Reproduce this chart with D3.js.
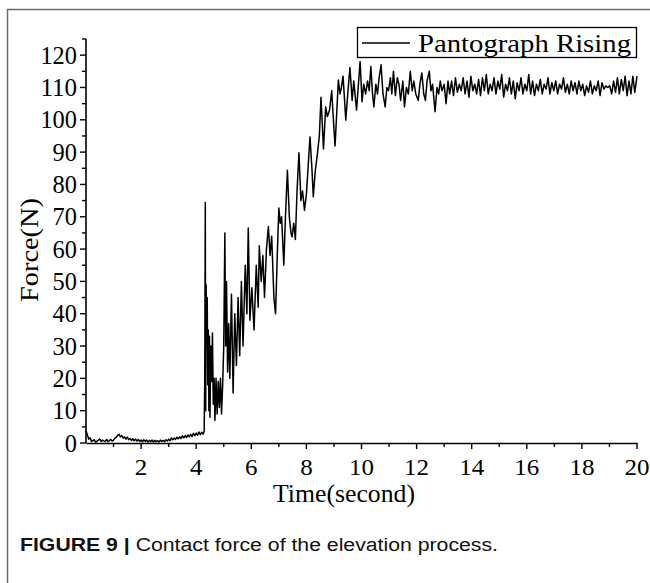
<!DOCTYPE html>
<html><head><meta charset="utf-8">
<script src="https://cdn.jsdelivr.net/npm/d3@7"></script>
<style>html,body{margin:0;padding:0;background:#fff;}svg{display:block;}</style>
</head><body>
<script>
// ---- data (time in s, force in N) ----
const xTicks = [2,4,6,8,10,12,14,16,18,20];
const yTicks = [0,10,20,30,40,50,60,70,80,90,100,110,120];
const seriesName = "Pantograph Rising";
const xLabel = "Time(second)";
const yLabel = "Force(N)";
const caption = ["FIGURE 9 | ", "Contact force of the elevation process."];

const phaseIdle = [
 [0,3.8],[0.05,2.5],[0.1,1.2],[0.15,1.6],[0.2,0.5],[0.3,1.0],[0.35,0.3],[0.4,0.6],[0.5,1.2],[0.55,0.5],[0.6,0.9],[0.7,0.4],
 [0.75,1.1],[0.8,0.4],[0.9,1.1],[0.95,0.6],[1.0,0.9],[1.05,1.5],[1.1,1.8],[1.15,2.4],[1.2,2.7],[1.25,1.9],[1.3,2.3],[1.35,1.5],
 [1.4,1.9],[1.45,1.2],[1.5,1.8],[1.55,1.0],[1.6,1.4],[1.65,0.8],[1.7,1.3],[1.75,0.7],[1.8,1.2],[1.85,0.6],[1.9,1.1],[1.95,0.5],
 [2.0,0.9],[2.05,0.4],[2.1,1.0],[2.15,0.5],[2.2,0.9],[2.25,0.3],[2.3,0.8],[2.35,0.4],[2.4,0.9],[2.45,0.3],[2.5,0.8],[2.55,0.4],
 [2.6,0.7],[2.65,0.3],[2.7,0.9],[2.75,0.5],[2.8,0.8],[2.85,0.4],[2.9,1.0],[2.95,0.6],[3.0,1.2],[3.05,0.7],[3.1,1.6],[3.15,1.0],
 [3.2,1.5],[3.25,1.1],[3.3,1.8],[3.35,1.3],[3.4,1.9],[3.45,1.4],[3.5,2.2],[3.55,1.6],[3.6,2.3],[3.65,1.7],[3.7,2.5],[3.75,1.9],
 [3.8,2.7],[3.85,2.0],[3.9,3.0],[3.95,2.3],[4.0,3.1],[4.05,2.4],[4.1,3.4],[4.15,2.6],[4.2,3.3],[4.25,2.8],[4.29,3.6]
];
const phaseContact = [
 [4.31,20],[4.33,74.4],[4.345,10],[4.36,49],[4.38,30],[4.40,45],[4.42,18],[4.44,35],[4.46,10],[4.48,33],[4.50,8],
 [4.53,30],[4.56,19],[4.59,34],[4.62,12],[4.65,20],[4.68,7],[4.72,20],[4.76,9],[4.80,19],[4.84,11],[4.88,20],[4.92,9],
 [4.96,18],[5.00,30],[5.04,65],[5.07,30],[5.10,50],[5.14,22],[5.18,37],[5.22,20],[5.28,46],[5.34,15.5],[5.40,40],
 [5.46,24],[5.52,45],[5.58,27],[5.64,50],[5.70,30],[5.78,55],[5.84,40],[5.89,66.5],[5.95,38],[6.02,48],[6.10,35],
 [6.18,55],[6.25,42],[6.29,61],[6.36,50],[6.42,58],[6.48,45],[6.55,60],[6.62,67],[6.68,58],[6.74,64],[6.82,45],[6.88,40]
];
const phaseRise = [
 [6.95,60],[7.00,72.7],[7.05,68],[7.10,70],[7.18,55],[7.24,70],[7.31,84.4],[7.38,70],[7.44,65],[7.48,63.8],[7.54,68],
 [7.60,63],[7.66,78],[7.73,89.8],[7.80,75],[7.86,78],[7.93,72],[8.00,77],[8.06,85],[8.13,94.7],[8.20,85],[8.25,76.2],
 [8.32,84],[8.40,89.5],[8.47,95],[8.53,107],[8.58,98],[8.62,91],[8.70,104],[8.76,101],[8.84,103],[8.92,109],[8.98,100],
 [9.04,91.9],[9.10,102],[9.16,112.3],[9.22,108],[9.27,110],[9.33,113.5],[9.43,99.9],[9.50,108],[9.58,116.2],[9.66,106],
 [9.72,112],[9.82,103],[9.88,110],[9.95,118],[10.02,105.6],[10.08,111],[10.15,108],[10.22,112],[10.28,109],[10.34,116.5],
 [10.40,108],[10.45,104],[10.52,111],[10.58,108],[10.64,113],[10.71,117],[10.78,108],[10.86,104],[10.92,110],[10.98,109],
 [11.05,113],[11.10,108],[11.16,115],[11.23,107.5],[11.30,113],[11.36,111],[11.42,106],[11.50,112],[11.56,104],[11.63,110],
 [11.70,108],[11.77,115],[11.84,109],[11.90,112],[11.97,108],[12.06,106],[12.12,111],[12.19,114.5],[12.26,108],[12.32,106],
 [12.38,112],[12.46,115],[12.52,109],[12.58,111],[12.67,102.5],[12.74,110],[12.80,108],[12.86,112],[12.92,109],[13.00,111],
 [13.07,105],[13.14,112]
];
const phaseSteady = [
 [13.20,108],[13.27,112],[13.34,107.5],[13.41,113],[13.48,108.5],[13.55,111],[13.62,109],[13.69,113],[13.76,108],[13.83,112],
 [13.90,107],[13.97,113.5],[14.04,109],[14.11,111],[14.18,108],[14.25,112.5],[14.32,107.5],[14.39,113],[14.46,109],[14.53,114],
 [14.60,108],[14.67,111],[14.74,109],[14.81,113],[14.88,108],[14.95,112],[15.02,109.5],[15.09,114],[15.16,107],[15.23,111],
 [15.30,109],[15.37,113],[15.44,108],[15.51,112],[15.58,106.5],[15.65,111.5],[15.72,109],[15.79,113],[15.86,108],[15.93,111],
 [16.00,109],[16.07,114],[16.14,108],[16.21,112],[16.28,107.5],[16.35,111],[16.42,109],[16.49,112.5],[16.56,108],[16.63,111],
 [16.70,109.5],[16.77,113],[16.84,108],[16.91,111.5],[16.98,109],[17.05,112],[17.12,108],[17.19,111],[17.26,109.5],[17.33,113],
 [17.40,108.5],[17.47,111],[17.54,108],[17.61,112],[17.68,109],[17.75,111.5],[17.82,108],[17.89,112],[17.96,109],[18.03,111],
 [18.10,107.5],[18.17,110.5],[18.24,108.5],[18.31,112],[18.38,108],[18.45,110.5],[18.52,109],[18.59,112],[18.66,107.5],[18.73,111.5],
 [18.80,109.5],[18.87,110.5],[18.94,110],[19.01,110.5],[19.08,108],[19.15,112],[19.22,108.5],[19.29,113],[19.36,108],[19.43,112.5],
 [19.50,109],[19.57,113.5],[19.64,107.5],[19.71,112],[19.78,108],[19.85,113.5],[19.92,108.5],[20.00,113.5]
];
const samples = [...phaseIdle, ...phaseContact, ...phaseRise, ...phaseSteady];

// ---- drawing ----
const W = 650, H = 583;
const svg = d3.select("body").append("svg").attr("width", W).attr("height", H);
const serif = "'Liberation Serif', 'DejaVu Serif', serif";

// figure frame
svg.append("path").attr("d", `M7.5,${H} L7.5,9.5 L${W},9.5`)
  .attr("fill", "none").attr("stroke", "#6b6b6b").attr("stroke-width", 1.5);

const x = d3.scaleLinear().domain([0, 20]).range([86, 637]);
const y = d3.scaleLinear().domain([0, 125]).range([443, 39]);

// line
const line = d3.line().x(d => x(d[0])).y(d => y(d[1]));
svg.append("path").datum(samples).attr("d", line)
  .attr("fill", "none").attr("stroke", "#000").attr("stroke-width", 1.5)
  .attr("stroke-linejoin", "round");

// x axis
const gx = svg.append("g").attr("transform", `translate(0,${y(0)})`)
  .call(d3.axisBottom(x).tickValues(d3.range(1, 21)).tickSize(0).tickFormat(""));
gx.select(".domain").attr("stroke", "#000").attr("stroke-width", 1.6);
gx.selectAll(".tick line").remove();
svg.append("g").selectAll("line").data(d3.range(1, 21)).join("line")
  .attr("x1", d => x(d)).attr("x2", d => x(d))
  .attr("y1", y(0)).attr("y2", d => y(0) + (d % 2 === 0 ? 6 : 4))
  .attr("stroke", "#000").attr("stroke-width", 1.4);
svg.append("g").selectAll("text").data(xTicks).join("text")
  .attr("x", d => x(d)).attr("y", 475)
  .attr("text-anchor", "middle")
  .attr("font-family", serif).attr("font-size", 24)
  .attr("textLength", d => String(d).length * 12.5).attr("lengthAdjust", "spacingAndGlyphs")
  .text(d => d);

// y axis
svg.append("line").attr("x1", x(0)).attr("x2", x(0)).attr("y1", y(0)).attr("y2", y(125))
  .attr("stroke", "#000").attr("stroke-width", 1.6);
svg.append("g").selectAll("line").data(d3.range(0, 126, 5)).join("line")
  .attr("x1", x(0)).attr("x2", d => x(0) - (d % 10 === 0 ? 6 : 4))
  .attr("y1", d => y(d)).attr("y2", d => y(d))
  .attr("stroke", "#000").attr("stroke-width", 1.4);
svg.append("g").selectAll("text").data(yTicks).join("text")
  .attr("x", 77).attr("y", d => y(d) + 8.5)
  .attr("text-anchor", "end")
  .attr("font-family", serif).attr("font-size", 25)
  .attr("textLength", d => String(d).length * 12.2).attr("lengthAdjust", "spacingAndGlyphs")
  .text(d => d);

// axis titles
svg.append("text").attr("x", 344).attr("y", 502).attr("text-anchor", "middle")
  .attr("font-family", serif).attr("font-size", 25)
  .attr("textLength", 142).attr("lengthAdjust", "spacingAndGlyphs").text(xLabel);
svg.append("text").attr("transform", "translate(38,250) rotate(-90)").attr("text-anchor", "middle")
  .attr("font-family", serif).attr("font-size", 25)
  .attr("textLength", 104).attr("lengthAdjust", "spacingAndGlyphs").text(yLabel);

// legend
svg.append("rect").attr("x", 357.5).attr("y", 27.5).attr("width", 279).attr("height", 30)
  .attr("fill", "#fff").attr("stroke", "#000").attr("stroke-width", 1.3);
svg.append("line").attr("x1", 362).attr("x2", 410).attr("y1", 43).attr("y2", 43)
  .attr("stroke", "#000").attr("stroke-width", 1.3);
svg.append("text").attr("x", 418).attr("y", 52)
  .attr("font-family", serif).attr("font-size", 26)
  .attr("textLength", 213).attr("lengthAdjust", "spacingAndGlyphs").text(seriesName);

// caption
const cap = svg.append("text").attr("x", 20).attr("y", 551)
  .attr("font-family", "'Liberation Sans', Arial, sans-serif").attr("font-size", 18).attr("fill", "#111");
cap.append("tspan").attr("font-weight", "bold").text(caption[0]);
cap.append("tspan").text(caption[1]);
cap.attr("textLength", 478).attr("lengthAdjust", "spacingAndGlyphs");
</script>
</body></html>
